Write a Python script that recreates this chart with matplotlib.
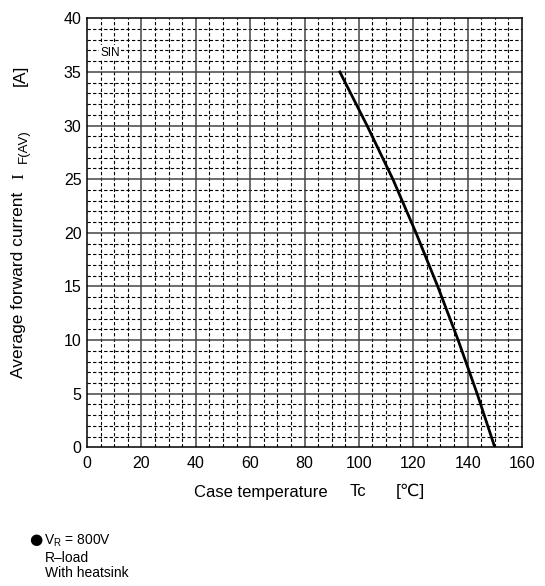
import matplotlib
matplotlib.use("Agg")
from matplotlib import pyplot as plt
import numpy as np

plt.rcParams['font.family'] = ['Liberation Sans', 'DejaVu Sans']
plt.rcParams['mathtext.fontset'] = 'custom'
plt.rcParams['mathtext.rm'] = 'Liberation Sans'

# derating curve
case_temp = [93, 103, 112.5, 121, 129, 136.5, 143.5, 150]
forward_current = [35, 30, 25, 20, 15, 10, 5, 0]

x_ticks = [0, 20, 40, 60, 80, 100, 120, 140, 160]
y_ticks = [0, 5, 10, 15, 20, 25, 30, 35, 40]

W, H = 545, 586
fig = plt.figure(figsize=(W / 100, H / 100), dpi=100)
ax = fig.add_axes([87 / W, 1 - 447.3 / H, (522 - 87) / W, (447.3 - 18.3) / H])

ax.set_xlim(0, 160)
ax.set_ylim(0, 40)

# dashed minor grid, skipping major positions
for x in np.arange(5, 160, 5):
    if x % 20:
        ax.axvline(x, color='black', lw=0.8, ls=(0, (3, 2)), zorder=1)
for y in np.arange(1, 40, 1):
    if y % 5:
        ax.axhline(y, color='black', lw=0.8, ls=(0, (3, 2)), zorder=1)
# solid major grid
for x in x_ticks[1:-1]:
    ax.axvline(x, color='#444444', lw=1.1, zorder=1.5)
for y in y_ticks[1:-1]:
    ax.axhline(y, color='#444444', lw=1.1, zorder=1.5)

ax.plot(case_temp, forward_current, color='black', lw=2, zorder=3)

ax.text(4.8, 36.8, 'SIN', fontsize=8.5, ha='left', va='center',
        bbox=dict(facecolor='white', edgecolor='none', pad=1), zorder=2)

ax.set_xticks(x_ticks)
ax.set_yticks(y_ticks)
ax.tick_params(axis='both', length=0, labelsize=11.5)
ax.tick_params(axis='x', pad=6)
ax.tick_params(axis='y', pad=4)
for s in ax.spines.values():
    s.set_linewidth(1.1)

# y axis label pieces
fig.text(19 / W, 1 - 285 / H, 'Average forward current', rotation=90,
         ha='center', va='center', fontsize=12.5)
fig.text(19 / W, 1 - 176 / H, 'I', rotation=90, ha='center', va='center',
         fontsize=12.5, family=['Liberation Serif', 'DejaVu Serif'])
fig.text(24 / W, 1 - 146 / H, 'F(AV)', rotation=90, ha='center', va='center',
         fontsize=9.5)
fig.text(20 / W, 1 - 75 / H, '[A]', rotation=90, ha='center', va='center',
         fontsize=12.5)

# x axis label pieces
fig.text(261 / W, 1 - 492 / H, 'Case temperature', ha='center', va='center',
         fontsize=12)
fig.text(358 / W, 1 - 492 / H, 'Tc', ha='center', va='center', fontsize=12)
fig.text(410 / W, 1 - 491 / H, '[\u2103]', ha='center', va='center',
         fontsize=12.5)

# test conditions
fig.text(29 / W, 1 - 540 / H, '\u25cf', ha='left', va='center', fontsize=11,
         family='DejaVu Sans')
fig.text(44 / W, 1 - 541 / H, 'V$_\\mathrm{R}$ = 800V', ha='left',
         va='center', fontsize=10)
fig.text(45 / W, 1 - 558 / H, 'R\u2013load', ha='left', va='center', fontsize=10)
fig.text(45 / W, 1 - 573 / H, 'With heatsink', ha='left', va='center',
         fontsize=10)

fig.savefig('out.png', dpi=100)
